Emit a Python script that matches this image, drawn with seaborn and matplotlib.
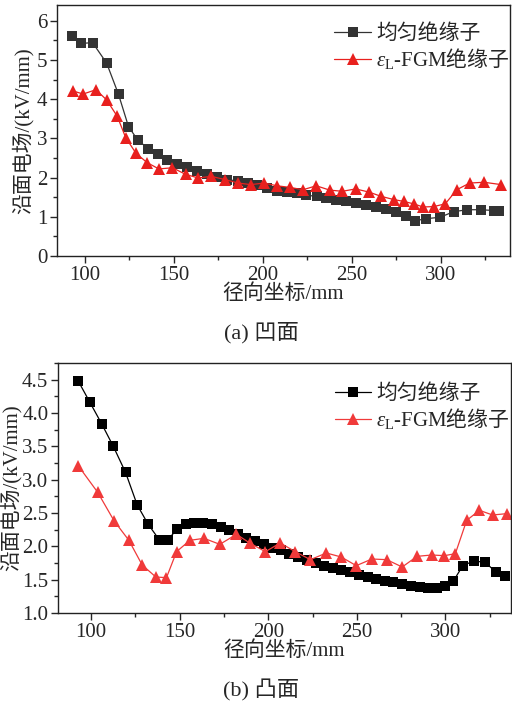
import matplotlib
matplotlib.use("Agg")
import matplotlib.pyplot as plt
import seaborn as sns
from matplotlib.ticker import MultipleLocator, FormatStrFormatter

# ---- data: (a) concave ----
a_uni_x = [93, 97.8, 104.3, 112.2, 118.9, 124.5, 129.8, 135.6, 141, 146.4, 152, 157.5, 163.1,
           168.7, 174.3, 179.9, 186, 191.8, 196.8, 202.4, 208, 213.8, 219.3, 224.5, 230.3,
           235.7, 241.3, 247, 252.6, 258.2, 263.8, 269.5, 275, 280.7, 285.7, 291.9, 299.8,
           307.3, 315, 322.5, 330, 333]
a_uni_y = [5.6, 5.42, 5.44, 4.92, 4.12, 3.3, 2.95, 2.74, 2.59, 2.44, 2.35, 2.26, 2.16,
           2.1, 2.02, 1.95, 1.91, 1.85, 1.8, 1.74, 1.67, 1.63, 1.61, 1.55, 1.52,
           1.48, 1.44, 1.39, 1.35, 1.31, 1.25, 1.2, 1.11, 1.03, 0.9, 0.95, 0.99,
           1.13, 1.18, 1.18, 1.16, 1.16]
a_fgm_x = [93.1, 99, 106.2, 112.2, 118.2, 122.9, 128.7, 135, 141.6, 149.2, 156.7, 163.7,
           171.1, 178.6, 186.1, 193.3, 200.7, 208, 215.2, 222.6, 230.1, 237.6, 244.7,
           252.2, 259.7, 266.6, 273.6, 279.4, 284.8, 290.1, 296.1, 302.6, 309.1, 316.3,
           324.4, 334.1]
a_fgm_y = [4.21, 4.13, 4.24, 3.98, 3.56, 3.02, 2.62, 2.38, 2.22, 2.25, 2.08, 1.99,
           2.03, 1.95, 1.86, 1.82, 1.86, 1.79, 1.75, 1.69, 1.79, 1.68, 1.65,
           1.71, 1.63, 1.52, 1.44, 1.39, 1.33, 1.25, 1.26, 1.33, 1.69, 1.86,
           1.88, 1.82]

# ---- data: (b) convex ----
b_uni_x = [92.8, 99.4, 106, 112.6, 119.5, 126.1, 132.3, 138.5, 143.5, 148.6, 153.5, 158.4,
           163.3, 168.2, 173.1, 177.9, 182.8, 187.7, 192.6, 197.5, 202.4, 207.2, 212,
           216.7, 221.7, 226.8, 231.4, 236.5, 241.2, 246.3, 251.2, 256.2, 260.9, 265.8,
           270.7, 275.6, 280.7, 285.4, 290.3, 295.1, 299.8, 304.5, 309.8, 315.9, 322.5,
           328.6, 333.8]
b_uni_y = [4.48, 4.16, 3.84, 3.5, 3.11, 2.62, 2.33, 2.1, 2.1, 2.26, 2.33, 2.35,
           2.35, 2.33, 2.29, 2.24, 2.19, 2.13, 2.08, 2.03, 1.98, 1.94, 1.89,
           1.84, 1.8, 1.75, 1.71, 1.67, 1.64, 1.61, 1.57, 1.54, 1.51, 1.48,
           1.46, 1.43, 1.41, 1.39, 1.38, 1.38, 1.41, 1.48, 1.71, 1.78, 1.76,
           1.61, 1.55]
b_fgm_x = [92.8, 103.8, 113.1, 121.4, 128.9, 136.6, 142.6, 148.3, 155.8, 163.8, 172.7,
           182.1, 189.6, 198.4, 206.8, 215.3, 223.8, 232.8, 241.2, 249.7, 258.5, 266.9,
           275.6, 284, 292.3, 299.4, 305.6, 312, 319.2, 326.6, 334.5]
b_fgm_y = [3.21, 2.81, 2.38, 2.09, 1.72, 1.54, 1.53, 1.92, 2.09, 2.12, 2.03,
           2.18, 2.05, 1.92, 2.05, 1.92, 1.8, 1.9, 1.84, 1.71, 1.81, 1.8,
           1.69, 1.85, 1.87, 1.86, 1.89, 2.39, 2.54, 2.47, 2.49]

lab_uni = "均匀绝缘子"
lab_fgm = r"$\varepsilon_{\rm L}$-FGM$\mathsf{绝缘子}$"
xlabel = "径向坐标/mm"
ylabel = "沿面电场/(kV/mm)"
cap_a = "(a) 凹面"
cap_b = "(b) 凸面"

sns.set_style("ticks")
plt.rcParams["font.family"] = ["Liberation Serif", "Noto Sans CJK SC"]
plt.rcParams["mathtext.fontset"] = "custom"
plt.rcParams["mathtext.rm"] = "Liberation Serif"
plt.rcParams["mathtext.it"] = "Liberation Serif:italic"
plt.rcParams["mathtext.bf"] = "Liberation Serif:bold"
plt.rcParams["mathtext.sf"] = "Noto Sans CJK SC"
plt.rcParams["mathtext.fallback"] = "stix"
plt.rcParams["font.size"] = 15
plt.rcParams["axes.linewidth"] = 1.0

fig = plt.figure(figsize=(5.12, 7.06), dpi=100)
ax1 = fig.add_axes([57/512, 1-256/706, (510-57)/512, (256-5)/706])
ax2 = fig.add_axes([58/512, 1-613/706, (511-58)/512, (613-363)/706])


def draw(ax, ux, uy, fx, fy, ucol, fcol, leg_x, leg_y, ypad):
    sns.lineplot(x=ux, y=uy, ax=ax, color=ucol, marker="s", markersize=6.5,
                 markeredgewidth=0, linewidth=0.9, label=lab_uni, estimator=None)
    sns.lineplot(x=fx, y=fy, ax=ax, color=fcol, marker="^", markersize=8,
                 markeredgewidth=0, linewidth=0.9, label=lab_fgm, estimator=None)
    ax.set_xlabel(xlabel, labelpad=0)
    ax.set_ylabel(ylabel, labelpad=ypad)
    ax.xaxis.set_major_locator(MultipleLocator(50))
    ax.xaxis.set_minor_locator(MultipleLocator(25))
    ax.tick_params(which="major", direction="out", length=5, width=1, pad=2, labelsize=15)
    ax.tick_params(which="minor", direction="out", length=3, width=1)
    for s in ax.spines.values():
        s.set_visible(True)
        s.set_color("#222222")
    ax.legend(loc="upper right", frameon=False, fontsize=15, handlelength=1.75,
              handletextpad=0.25, labelspacing=0.1, borderaxespad=0.1,
              bbox_to_anchor=(leg_x, leg_y))


draw(ax1, a_uni_x, a_uni_y, a_fgm_x, a_fgm_y, "#333333", "#e8201e", 1.022, 0.965, 2)
ax1.set_xlim(84.3, 339)
ax1.set_ylim(0, 6.4)
ax1.yaxis.set_major_locator(MultipleLocator(1))
ax1.yaxis.set_minor_locator(MultipleLocator(0.5))

draw(ax2, b_uni_x, b_uni_y, b_fgm_x, b_fgm_y, "#000000", "#f03a3a", 1.02, 0.955, 0)
ax2.set_xlim(81.4, 337)
ax2.set_ylim(1.0, 4.75)
ax2.yaxis.set_major_locator(MultipleLocator(0.5))
ax2.yaxis.set_minor_locator(MultipleLocator(0.25))
ax2.yaxis.set_major_formatter(FormatStrFormatter("%.1f"))

fig.text(0.51, 1-333/706, cap_a, ha="center", va="center", fontsize=16)
fig.text(0.51, 1-690/706, cap_b, ha="center", va="center", fontsize=16)

fig.savefig("out.png", dpi=100)
